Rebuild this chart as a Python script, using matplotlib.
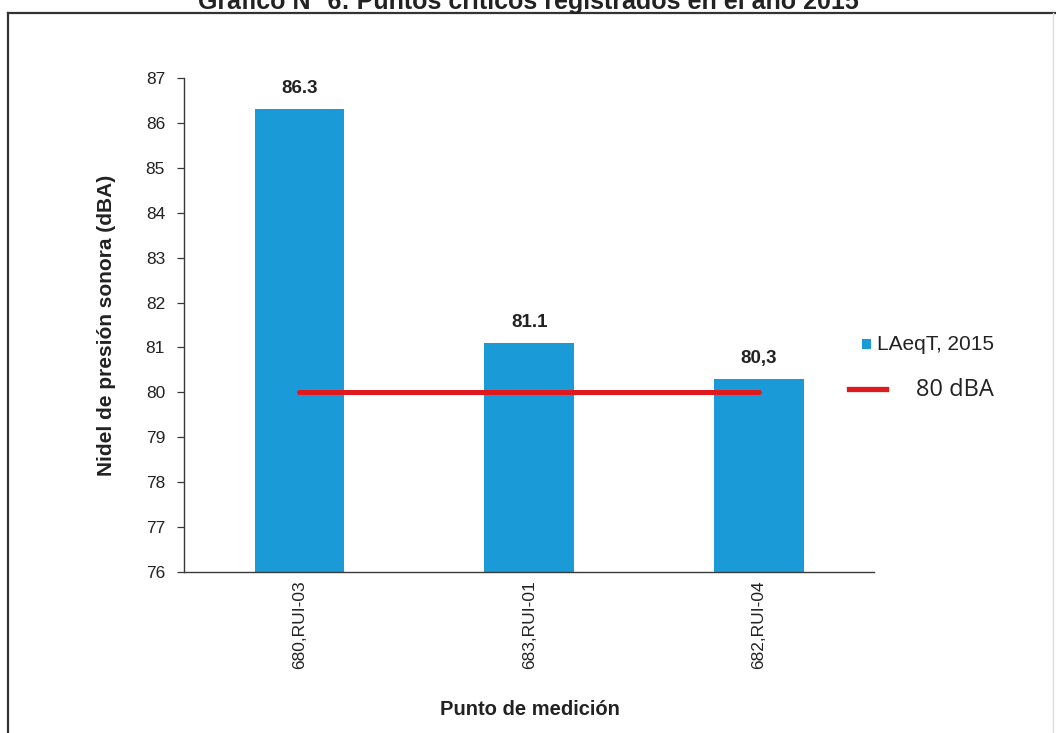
import matplotlib
matplotlib.use("Agg")
import matplotlib.pyplot as plt
from matplotlib.lines import Line2D
from matplotlib.patches import Rectangle

# Data
points = ["680,RUI-03", "683,RUI-01", "682,RUI-04"]
value_labels = ["86.3", "81.1", "80,3"]
values = [float(s.replace(",", ".")) for s in value_labels]
limit_dba = 80
y_ticks = list(range(76, 88))

bar_color = "#1b9ad8"
red = "#e0191f"
axis_color = "#3a3a3a"

plt.rcParams["font.family"] = ["Liberation Sans", "DejaVu Sans"]

fig = plt.figure(figsize=(10.56, 7.33), dpi=100)
ax = fig.add_axes([0.1747, 0.2196, 0.6530, 0.6740])

x = list(range(len(points)))
ax.bar(x, values, width=0.39, color=bar_color, zorder=2)
ax.plot([x[0], x[-1]], [limit_dba, limit_dba], color=red, lw=3.6,
        solid_capstyle="round", zorder=3)

for xi, v, lab in zip(x, values, value_labels):
    ax.annotate(lab, (xi, v), xytext=(0, 15), textcoords="offset points",
                ha="center", va="center", fontsize=13.5, fontweight="bold",
                color="#222222")

ax.set_xlim(-0.5, 2.5)
ax.set_ylim(76, 87)
ax.set_yticks(y_ticks)
ax.set_yticklabels([str(t) for t in y_ticks], fontsize=12.5, color="#222222")
ax.set_xticks(x)
ax.set_xticklabels(points, rotation=90, fontsize=12.5, color="#222222")
ax.tick_params(axis="x", length=0, pad=6)
ax.tick_params(axis="y", length=5, width=0.9, color=axis_color, pad=9)

for side in ("top", "right"):
    ax.spines[side].set_visible(False)
for side in ("left", "bottom"):
    ax.spines[side].set_color(axis_color)
    ax.spines[side].set_linewidth(1.0)

ax.set_ylabel("Nidel de presión sonora (dBA)", fontsize=15,
              fontweight="bold", color="#222222", labelpad=21)
fig.text(0.502, 0.024, "Punto de medición", ha="center", va="baseline",
         fontsize=14.5, fontweight="bold", color="#222222",
         family=["Liberation Sans Narrow", "Liberation Sans"])

# Title, partly cut by the top edge of the page
fig.text(0.5, 0.988, "Gráfico N° 6: Puntos críticos registrados en el año 2015",
         ha="center", va="baseline", fontsize=18, fontweight="bold",
         color="#222222", family=["Liberation Sans Narrow", "Liberation Sans"])

# Page frame
fig.add_artist(Line2D([8 / 1056, 1.0], [1 - 13 / 733, 1 - 13 / 733],
                      color="#333333", lw=1.6, transform=fig.transFigure))
fig.add_artist(Line2D([8 / 1056, 8 / 1056], [0.0, 1 - 13 / 733],
                      color="#333333", lw=1.6, transform=fig.transFigure))
fig.add_artist(Line2D([1053 / 1056, 1053 / 1056], [0.0, 1 - 13 / 733],
                      color="#dddddd", lw=1.0, transform=fig.transFigure))

# Legend
fig.add_artist(Rectangle((862 / 1056, 1 - 349 / 733), 9 / 1056, 10 / 733,
                         facecolor=bar_color, edgecolor="none",
                         transform=fig.transFigure))
fig.text(877 / 1056, 1 - 350 / 733, "LAeqT, 2015", ha="left", va="baseline",
         fontsize=15, color="#222222")
fig.add_artist(Line2D([849 / 1056, 886 / 1056], [1 - 389.5 / 733, 1 - 389.5 / 733],
                      color=red, lw=3.8, transform=fig.transFigure))
fig.text(916 / 1056, 1 - 396 / 733, "80 dBA", ha="left", va="baseline",
         fontsize=17, color="#222222", family=["Open Sans", "DejaVu Sans"])

fig.savefig("out.png", dpi=100, facecolor="white")
